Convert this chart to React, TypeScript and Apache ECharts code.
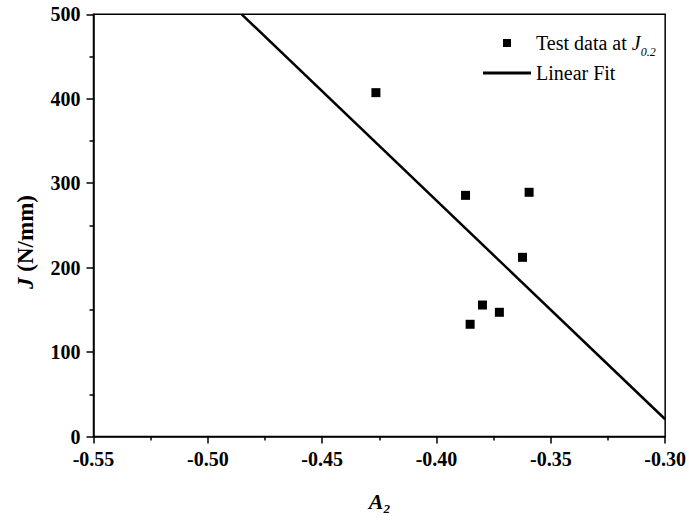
import React, { useEffect, useRef } from "react";
import * as echarts from "echarts";

// Measured test points (A2, J in N/mm)
const testA2 = [-0.4265, -0.3873, -0.3595, -0.3624, -0.3799, -0.3725, -0.3853];
const testJ = [407.2, 285.6, 289.2, 212.2, 155.7, 147.1, 132.9];

// Linear fit end points (A2, J)
const fitA2 = [-0.4852, -0.3];
const fitJ = [500, 20.4];

const xTicks = [-0.55, -0.5, -0.45, -0.4, -0.35, -0.3];
const yTicks = [0, 100, 200, 300, 400, 500];

const FONT = "'Liberation Serif', 'Times New Roman', serif";

export default function App() {
  const ref = useRef<HTMLDivElement>(null);

  useEffect(() => {
    if (!ref.current) return;
    const chart = echarts.init(ref.current, null, { renderer: "svg" });

    const scatterData = testA2.map((x, i) => [x, testJ[i]]);
    const fitData = fitA2.map((x, i) => [x, fitJ[i]]);

    chart.setOption({
      animation: false,
      backgroundColor: "#ffffff",
      grid: {
        left: 93.5,
        right: 23.3,
        top: 14.3,
        bottom: 85.5,
        show: true,
        borderColor: "#000",
        borderWidth: 1.5,
        backgroundColor: "transparent",
      },
      legend: [
        {
          data: ["Test data at J0.2"],
          left: 498,
          top: 28,
          itemWidth: 8,
          itemHeight: 8,
          icon: "rect",
          itemStyle: { color: "#000", opacity: 1 },
          formatter: () => "{m|Test data at }{j|J}{s|0.2}",
          textStyle: {
            padding: [0, 0, 0, 20],
            rich: {
              m: { fontFamily: FONT, fontSize: 20, color: "#000", lineHeight: 20 },
              j: { fontFamily: FONT, fontSize: 20, fontStyle: "italic", color: "#000", lineHeight: 20 },
              s: {
                fontFamily: FONT,
                fontSize: 12,
                fontStyle: "italic",
                color: "#000",
                padding: [18, 0, 0, 0],
              },
            },
          },
        },
        {
          data: ["Linear Fit"],
          left: 478,
          top: 58,
          itemWidth: 48,
          itemHeight: 3,
          icon: "rect",
          itemStyle: { color: "#000", opacity: 1 },
          textStyle: { fontFamily: FONT, fontSize: 20, color: "#000", lineHeight: 20 },
        },
      ],
      xAxis: {
        type: "value",
        min: xTicks[0],
        max: xTicks[xTicks.length - 1],
        interval: 0.05,
        name: "{a|A}{s|2}",
        nameLocation: "middle",
        nameGap: 51,
        nameTextStyle: {
          rich: {
            a: { fontFamily: FONT, fontSize: 22, fontStyle: "italic", fontWeight: "bold", color: "#000" },
            s: {
              fontFamily: FONT,
              fontSize: 13,
              fontStyle: "italic",
              fontWeight: "bold",
              color: "#000",
              padding: [14, 0, 0, 0],
            },
          },
        },
        axisLine: { show: true, onZero: false, lineStyle: { color: "#000", width: 1.5 } },
        axisTick: { show: true, inside: false, length: 7, lineStyle: { color: "#000", width: 1.5 } },
        minorTick: { show: true, splitNumber: 2, length: 4, lineStyle: { color: "#000", width: 1.5 } },
        splitLine: { show: false },
        axisLabel: {
          margin: 12,
          fontFamily: FONT,
          fontSize: 20,
          fontWeight: "bold",
          color: "#000",
          formatter: (v: number) => v.toFixed(2),
        },
      },
      yAxis: {
        type: "value",
        min: yTicks[0],
        max: yTicks[yTicks.length - 1],
        interval: 100,
        axisLine: { show: true, onZero: false, lineStyle: { color: "#000", width: 1.5 } },
        axisTick: { show: true, inside: false, length: 7, lineStyle: { color: "#000", width: 1.5 } },
        minorTick: { show: true, splitNumber: 2, length: 4, lineStyle: { color: "#000", width: 1.5 } },
        splitLine: { show: false },
        axisLabel: {
          margin: 13,
          fontFamily: FONT,
          fontSize: 20,
          fontWeight: "bold",
          color: "#000",
        },
      },
      graphic: [
        {
          type: "text",
          x: 25,
          y: 242,
          rotation: Math.PI / 2,
          style: {
            text: "{j|J} {t|(N/mm)}",
            align: "center",
            verticalAlign: "middle",
            rich: {
              j: { fontFamily: FONT, fontSize: 23, fontStyle: "italic", fontWeight: "bold", fill: "#000" },
              t: { fontFamily: FONT, fontSize: 23, fontWeight: "bold", fill: "#000" },
            },
            font: `bold 23px ${FONT}`,
          },
        },
      ],
      series: [
        {
          name: "Test data at J0.2",
          type: "scatter",
          symbol: "rect",
          symbolSize: 9,
          itemStyle: { color: "#000", opacity: 1 },
          data: scatterData,
          z: 3,
        },
        {
          name: "Linear Fit",
          type: "line",
          showSymbol: false,
          symbol: "none",
          lineStyle: { color: "#000", width: 2.5 },
          itemStyle: { color: "#000" },
          data: fitData,
          z: 2,
        },
      ],
    });

    return () => chart.dispose();
  }, []);

  return (
    <div
      ref={ref}
      style={{ position: "fixed", left: 0, top: 0, width: 689, height: 522, background: "#fff" }}
    />
  );
}
